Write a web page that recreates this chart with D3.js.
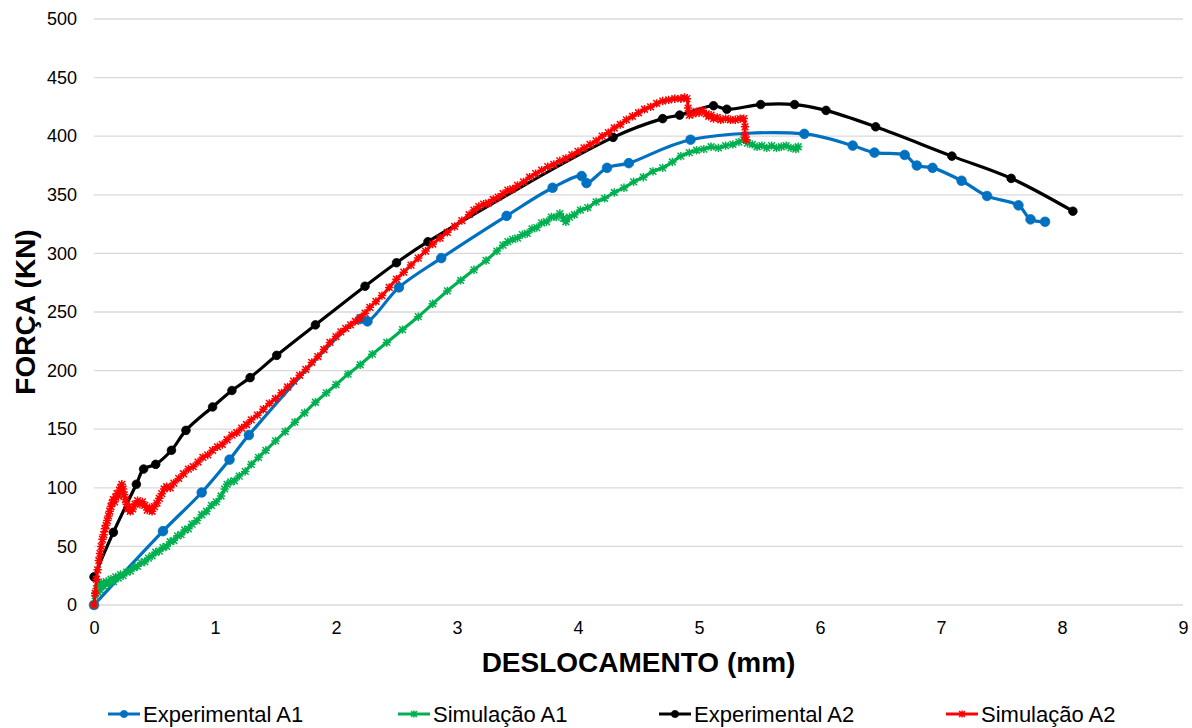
<!DOCTYPE html>
<html>
<head>
<meta charset="utf-8">
<script src="https://cdn.jsdelivr.net/npm/d3@7"></script>
<style>
  html, body { margin: 0; padding: 0; background: #fff; }
  svg { display: block; font-family: "Liberation Sans", Arial, sans-serif; }
</style>
</head>
<body>
<svg id="chart" width="1192" height="728"></svg>
<script>
// Force vs. displacement curves: two tests (A1, A2), experimental and simulated.
const xTicks = [0, 1, 2, 3, 4, 5, 6, 7, 8, 9];
const yTicks = [0, 50, 100, 150, 200, 250, 300, 350, 400, 450, 500];

const expA1 = [
  [0, 0], [0.57, 63], [0.89, 96], [1.12, 124], [1.28, 145], [2.2, 244], [2.26, 242],
  [2.52, 271], [2.87, 296], [3.41, 332], [3.79, 356], [4.03, 366], [4.07, 360],
  [4.24, 373], [4.42, 377], [4.93, 397], [5.87, 402], [6.27, 392], [6.45, 386],
  [6.7, 384], [6.8, 375], [6.93, 373], [7.17, 362], [7.38, 349], [7.64, 341],
  [7.74, 329], [7.86, 327]
];

const simA1 = [
  [0, 0], [0.01, 8], [0.02, 14], [0.03, 11], [0.04, 17], [0.05, 13], [0.06, 19], [0.08, 16],
  [0.1, 20], [0.12, 18], [0.14, 22], [0.16, 20], [0.18, 24], [0.2, 23], [0.22, 26], [0.24, 25],
  [0.27, 28], [0.3, 29], [0.33, 32], [0.36, 33], [0.39, 36], [0.42, 37], [0.45, 40], [0.48, 42],
  [0.51, 45], [0.54, 46], [0.57, 49], [0.6, 50], [0.63, 54], [0.66, 55], [0.69, 59], [0.72, 60],
  [0.75, 64], [0.78, 65], [0.81, 69], [0.85, 72], [0.89, 77], [0.93, 80], [0.97, 85], [1.01, 88],
  [1.05, 93], [1.08, 99], [1.1, 103], [1.13, 105], [1.16, 106], [1.2, 110], [1.25, 114],
  [1.3, 120], [1.36, 126], [1.42, 132], [1.5, 140], [1.58, 148], [1.66, 156], [1.74, 164],
  [1.83, 173], [1.92, 181], [2.0, 188], [2.1, 197], [2.2, 205], [2.3, 214], [2.42, 224],
  [2.55, 235], [2.68, 246], [2.8, 257], [2.92, 268], [3.03, 277], [3.14, 286], [3.24, 294],
  [3.33, 302], [3.38, 307], [3.42, 310], [3.46, 312], [3.5, 313], [3.54, 316], [3.58, 317],
  [3.62, 321], [3.66, 322], [3.7, 326], [3.74, 327], [3.78, 331], [3.82, 331], [3.85, 334],
  [3.88, 330], [3.9, 327], [3.93, 331], [3.97, 333], [4.02, 337], [4.08, 339], [4.15, 344],
  [4.22, 347], [4.3, 352], [4.38, 356], [4.46, 361], [4.54, 365], [4.62, 370], [4.7, 373],
  [4.78, 378], [4.85, 383], [4.92, 386], [4.98, 388], [5.04, 389], [5.1, 391], [5.16, 390],
  [5.22, 392], [5.28, 393], [5.33, 395], [5.37, 397], [5.4, 394], [5.44, 393], [5.48, 391],
  [5.52, 392], [5.56, 390], [5.6, 392], [5.64, 390], [5.68, 391], [5.72, 392], [5.76, 390],
  [5.8, 389], [5.82, 391]
];

const expA2 = [
  [0, 24], [0.16, 62], [0.35, 103], [0.41, 116], [0.51, 120], [0.64, 132], [0.76, 149],
  [0.98, 169], [1.14, 183], [1.29, 194], [1.51, 213], [1.83, 239], [2.24, 272], [2.5, 292],
  [2.76, 310], [4.29, 399], [4.7, 415], [4.84, 418], [5.12, 426], [5.23, 423], [5.51, 427],
  [5.79, 427], [6.05, 422], [6.46, 408], [7.09, 383], [7.58, 364], [8.09, 336]
];

const simA2 = [
  [0, 0], [0.01, 10], [0.02, 22], [0.03, 30], [0.04, 38], [0.05, 44], [0.06, 50], [0.07, 56],
  [0.08, 60], [0.09, 65], [0.1, 68], [0.11, 72], [0.12, 76], [0.13, 80], [0.14, 84], [0.15, 87],
  [0.16, 90], [0.17, 88], [0.18, 92], [0.19, 95], [0.2, 93], [0.21, 98], [0.22, 100], [0.23, 103],
  [0.24, 99], [0.25, 94], [0.26, 90], [0.27, 86], [0.28, 82], [0.29, 84], [0.3, 80], [0.32, 82],
  [0.34, 86], [0.36, 89], [0.38, 86], [0.4, 88], [0.42, 85], [0.44, 81], [0.46, 83], [0.48, 80],
  [0.5, 84], [0.52, 87], [0.54, 91], [0.56, 95], [0.58, 99], [0.6, 101], [0.63, 100], [0.66, 104],
  [0.7, 108], [0.74, 112], [0.78, 116], [0.82, 118], [0.86, 122], [0.9, 126], [0.94, 128],
  [0.98, 132], [1.02, 135], [1.06, 137], [1.1, 141], [1.14, 145], [1.18, 147], [1.22, 151],
  [1.26, 154], [1.3, 158], [1.35, 162], [1.4, 167], [1.45, 172], [1.5, 176], [1.55, 181],
  [1.6, 186], [1.65, 191], [1.7, 196], [1.75, 201], [1.8, 207], [1.85, 212], [1.9, 218],
  [1.95, 224], [2.0, 229], [2.04, 233], [2.08, 236], [2.12, 239], [2.16, 242], [2.2, 245],
  [2.24, 249], [2.28, 254], [2.33, 259], [2.38, 264], [2.44, 271], [2.5, 278], [2.56, 284],
  [2.62, 290], [2.68, 296], [2.74, 302], [2.8, 308], [2.86, 313], [2.92, 318], [2.98, 323],
  [3.04, 328], [3.1, 333], [3.14, 337], [3.18, 340], [3.22, 342], [3.26, 343], [3.3, 346],
  [3.34, 348], [3.38, 351], [3.42, 354], [3.46, 355], [3.5, 358], [3.55, 361], [3.6, 365],
  [3.65, 368], [3.7, 371], [3.75, 374], [3.8, 376], [3.85, 379], [3.9, 381], [3.95, 384],
  [4.0, 387], [4.05, 390], [4.1, 393], [4.15, 396], [4.2, 400], [4.25, 403], [4.3, 407],
  [4.35, 410], [4.4, 414], [4.45, 417], [4.5, 420], [4.55, 423], [4.6, 425], [4.65, 428],
  [4.7, 430], [4.75, 431], [4.8, 432], [4.85, 432], [4.88, 433], [4.9, 432], [4.91, 424],
  [4.92, 418], [4.95, 419], [4.98, 421], [5.0, 420], [5.03, 422], [5.06, 419], [5.08, 417],
  [5.1, 418], [5.12, 415], [5.15, 416], [5.18, 414], [5.22, 415], [5.26, 414], [5.3, 414],
  [5.34, 415], [5.37, 415], [5.38, 408], [5.38, 401], [5.39, 397]
];

const seriesNames = ["Experimental A1", "Simulação A1", "Experimental A2", "Simulação A2"];
const seriesData = [expA1, simA1, expA2, simA2];
const seriesColors = ["#0070C0", "#00B050", "#000000", "#FF0000"];
const seriesMarkers = ["circle", "star", "circle", "star"];
const markerSizes = [4.8, 4.2, 4.3, 4.2];

const svg = d3.select("#chart");
const plotLeft = 94, plotRight = 1183, plotTop = 19, plotBottom = 605;

const x = d3.scaleLinear().domain([0, 9]).range([plotLeft, plotRight]);
const y = d3.scaleLinear().domain([0, 500]).range([plotBottom, plotTop]);

// horizontal gridlines
svg.append("g")
  .selectAll("line")
  .data(yTicks)
  .join("line")
  .attr("x1", plotLeft).attr("x2", plotRight)
  .attr("y1", d => y(d)).attr("y2", d => y(d))
  .attr("stroke", "#d9d9d9").attr("stroke-width", 1.3);

// y axis labels
const yAxis = svg.append("g")
  .attr("transform", `translate(${plotLeft},0)`)
  .call(d3.axisLeft(y).tickValues(yTicks).tickSize(0).tickPadding(17));
yAxis.select(".domain").remove();
yAxis.selectAll("text")
  .attr("font-size", 18).attr("fill", "#000")
  .attr("font-family", "Liberation Sans, Arial, sans-serif");

// x axis labels
const xAxis = svg.append("g")
  .attr("transform", `translate(0,${plotBottom})`)
  .call(d3.axisBottom(x).tickValues(xTicks).tickSize(0).tickPadding(16));
xAxis.select(".domain").remove();
xAxis.selectAll("text")
  .attr("font-size", 18).attr("fill", "#000")
  .attr("font-family", "Liberation Sans, Arial, sans-serif");

// axis titles
svg.append("text")
  .attr("x", (plotLeft + plotRight) / 2).attr("y", 672)
  .attr("text-anchor", "middle")
  .attr("font-size", 28).attr("font-weight", "bold")
  .text("DESLOCAMENTO (mm)");

svg.append("text")
  .attr("transform", `translate(35,${(plotTop + plotBottom) / 2}) rotate(-90)`)
  .attr("text-anchor", "middle")
  .attr("font-size", 28).attr("font-weight", "bold")
  .text("FORÇA (KN)");

// six-armed asterisk used for the simulated series
function starPath(r) {
  const d = r * 0.8;
  return `M${-d},${-d}L${d},${d}M${-d},${d}L${d},${-d}M0,${-r}L0,${r}M${-r},0L${r},0`;
}

function drawMarker(g, type, color, size) {
  if (type === "circle") {
    g.append("circle").attr("r", size).attr("fill", color).attr("stroke", color).attr("stroke-width", 0.8);
  } else {
    g.append("path").attr("d", starPath(size)).attr("stroke", color)
      .attr("stroke-width", 1.5).attr("fill", "none");
  }
}

const line = d3.line()
  .x(d => x(d[0])).y(d => y(d[1]))
  .curve(d3.curveCatmullRom.alpha(0.5));

seriesData.forEach((data, i) => {
  const g = svg.append("g");
  g.append("path")
    .datum(data)
    .attr("d", line)
    .attr("fill", "none")
    .attr("stroke", seriesColors[i])
    .attr("stroke-width", 3.2)
    .attr("stroke-linejoin", "round");
  g.selectAll("g.m")
    .data(data)
    .join("g")
    .attr("class", "m")
    .attr("transform", d => `translate(${x(d[0])},${y(d[1])})`)
    .each(function () { drawMarker(d3.select(this), seriesMarkers[i], seriesColors[i], markerSizes[i]); });
});

// legend
const legendX = [108, 398, 659, 946];
const legendY = 714;
seriesNames.forEach((name, i) => {
  const g = svg.append("g").attr("transform", `translate(${legendX[i]},${legendY})`);
  g.append("line").attr("x1", 0).attr("x2", 32).attr("y1", 0).attr("y2", 0)
    .attr("stroke", seriesColors[i]).attr("stroke-width", 3);
  const m = g.append("g").attr("transform", "translate(16,0)");
  drawMarker(m, seriesMarkers[i], seriesColors[i], 3.6);
  g.append("text").attr("x", 35).attr("y", 8)
    .attr("font-size", 22).attr("fill", "#000")
    .text(name);
});
</script>
</body>
</html>
